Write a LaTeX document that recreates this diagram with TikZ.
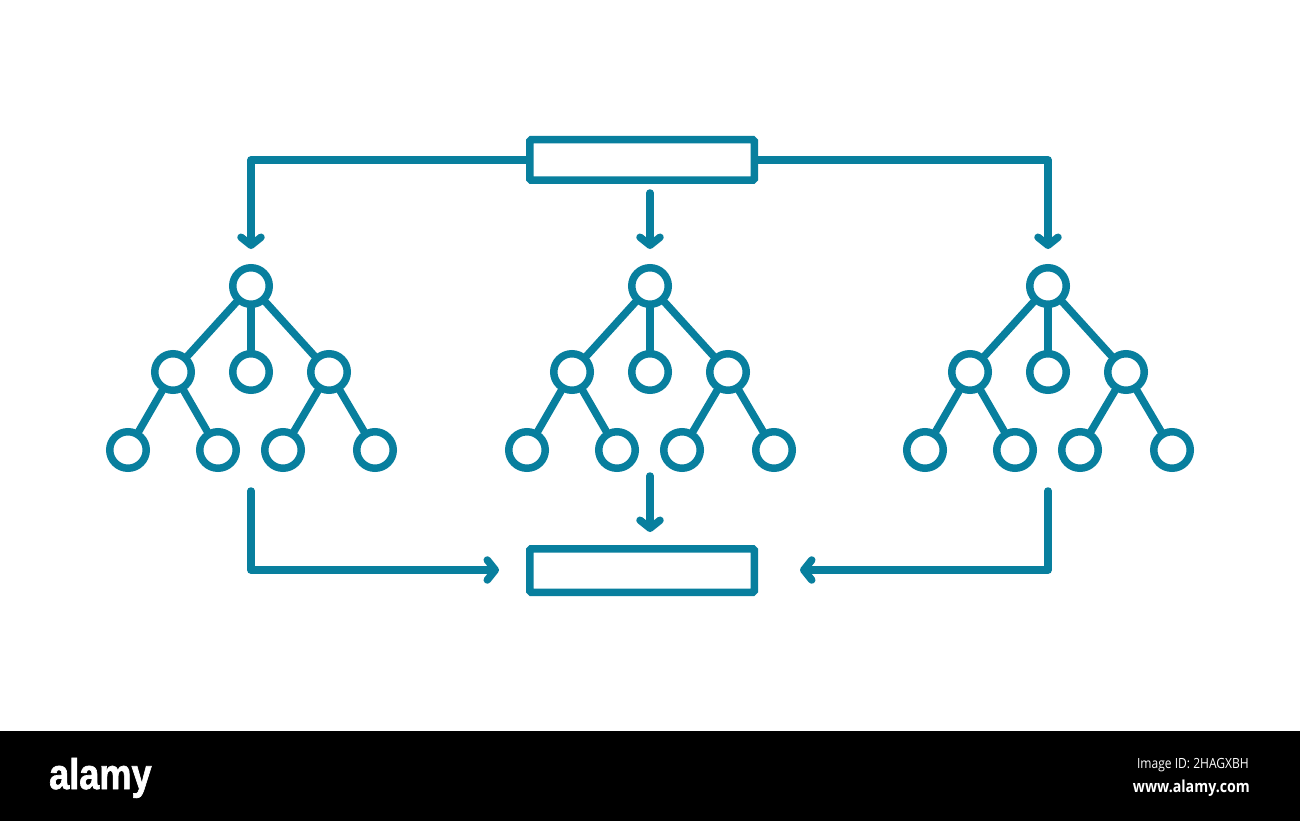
\documentclass[tikz,border=0pt]{standalone}
\usepackage{fontspec}
\usetikzlibrary{arrows.meta}
\newfontfamily\alamyfont[FakeStretch=0.84,FakeBold=1.5]{Liberation Sans}
\newfontfamily\infofont[FakeStretch=0.86]{Open Sans}
\definecolor{teal}{RGB}{8,127,158}
\begin{document}
\begin{tikzpicture}[x=1pt,y=-1pt,
  ln/.style={draw=teal,line width=7.5pt,line cap=round,line join=round},
  arr/.style={ln,-{Straight Barb[round,length=8pt,width=20pt]}},
  dot/.style={circle,draw=teal,line width=7.5pt,minimum size=36.5pt,inner sep=0pt,fill=white},
  bar/.style={rectangle,draw=teal,line width=7.5pt,rounded corners=1.5pt,inner sep=0pt,minimum width=224.5pt,minimum height=40.5pt}]
\useasboundingbox (0,0) rectangle (1300,821);
\fill[white] (0,0) rectangle (1300,821);
% boxes
\node[bar] (top) at (642,160) {};
\node[bar,minimum height=43.5pt] (bot) at (642,570.5) {};
% trees
\foreach \t/\ox in {L/0,C/399,R/797}{
  \begin{scope}[xshift=\ox]
  \node[dot] (\t r) at (251,286) {};
  \node[dot] (\t a) at (173,372) {};
  \node[dot] (\t b) at (251,372) {};
  \node[dot] (\t c) at (329,372) {};
  \node[dot] (\t 1) at (128,450) {};
  \node[dot] (\t 2) at (218,450) {};
  \node[dot] (\t 3) at (283,450) {};
  \node[dot] (\t 4) at (375,450) {};
  \draw[ln] (\t r) -- (\t a);
  \draw[ln] (\t r) -- (\t b);
  \draw[ln] (\t r) -- (\t c);
  \draw[ln] (\t a) -- (\t 1);
  \draw[ln] (\t a) -- (\t 2);
  \draw[ln] (\t c) -- (\t 3);
  \draw[ln] (\t c) -- (\t 4);
  \end{scope}
}
% connector end points
\coordinate (tl) at (251,249);
\coordinate (tr) at (1048,249);
\coordinate (tcs) at (650,193);
\coordinate (tce) at (650,249);
\coordinate (bcs) at (650,476);
\coordinate (bce) at (650,532);
\coordinate (bls) at (251,491);
\coordinate (ble) at (499,570);
\coordinate (brs) at (1048,491);
\coordinate (bre) at (800,570);
\draw[arr] (top.west) -| (tl);
\draw[arr] (top.east) -| (tr);
\draw[arr] (tcs) -- (tce);
\draw[arr] (bcs) -- (bce);
\draw[arr] (bls) |- (ble);
\draw[arr] (brs) |- (bre);
% footer bar
\fill[black] (0,731) rectangle (1300,821);
\node[anchor=base west,inner sep=0pt,text=white,font=\alamyfont\bfseries\fontsize{43}{44}\selectfont] (logo) at (49,789) {alamy};
\node[anchor=base east,inner sep=0pt,text=white,font=\infofont\fontsize{14}{16}\selectfont] (imgid) at (1249,768) {Image ID: 2HAGXBH};
\node[anchor=base east,inner sep=0pt,text=white,font=\infofont\bfseries\fontsize{16.5}{18}\selectfont] (web) at (1250,792) {www.alamy.com};
\end{tikzpicture}
\end{document}
